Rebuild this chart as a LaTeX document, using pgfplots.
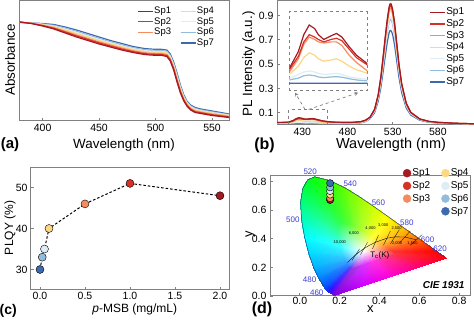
\documentclass[border=0pt]{standalone}
\usepackage{fontspec}
\setmainfont{Liberation Sans}
\usepackage{pgfplots}
\usepackage{pgfplotstable}
\pgfplotsset{compat=1.18}
\definecolor{c1}{RGB}{165,25,35}
\definecolor{c2}{RGB}{215,48,39}
\definecolor{c3}{RGB}{244,140,95}
\definecolor{c4}{RGB}{253,215,130}
\definecolor{c5}{RGB}{222,236,244}
\definecolor{c6}{RGB}{145,188,220}
\definecolor{c7}{RGB}{60,105,175}
\definecolor{frame}{RGB}{128,128,128}
\definecolor{wl}{RGB}{60,60,215}
\definecolor{locus}{RGB}{40,70,120}

\pgfplotstableread{
x a1 a2 a3 a4 a5 a6 a7
380 99 98.9 98.8 98.8 98.7 98.6 98.5
390 97.5 97.6 97.7 97.8 97.8 97.9 98
400 95 95.4 95.8 96.3 96.6 97 97.5
410 92 92.7 93.4 94.3 94.9 95.6 96.5
420 88 88.9 89.8 91 91.9 92.8 94
430 84 85.1 86.1 87.5 88.6 89.6 91
440 80.5 81.6 82.6 84 85.1 86.1 87.5
450 77 78.1 79.1 80.5 81.6 82.6 84
460 74 75 76 77.3 78.2 79.2 80.5
470 71 72 73 74.3 75.2 76.2 77.5
480 68.5 69.4 70.3 71.5 72.4 73.3 74.5
490 66.5 67.4 68.3 69.5 70.4 71.3 72.5
495 66 66.9 67.8 69 69.9 70.8 72
500 65.7 66.6 67.5 68.7 69.6 70.5 71.7
505 65.7 66.6 67.5 68.7 69.6 70.5 71.7
510 64.5 65.5 66.5 67.8 68.7 69.7 71
513 60 61.1 62.1 63.5 64.6 65.6 67
516 51 52.2 53.4 55 56.2 57.4 59
519 39 40.4 41.7 43.5 44.9 46.2 48
522 28 29.2 30.4 32 33.2 34.4 36
525 20 20.9 21.8 23 23.9 24.8 26
528 14.5 15.3 16 17 17.8 18.5 19.5
531 11 11.8 12.5 13.5 14.3 15 16
535 8.5 9.3 10 11 11.8 12.5 13.5
540 7.5 8.2 8.9 9.8 10.4 11.1 12
550 5.5 6.2 6.9 7.8 8.4 9.1 10
565 3.5 4 4.6 5.3 5.8 6.3 7
}\absdata

\pgfplotstableread{
x s1 s2 s3 s4 s5 s6 s7
402 0.021 0.020 0.019 0.017 0.015 0.014 0.0118
410 0.022 0.021 0.020 0.018 0.015 0.014 0.0118
415 0.024 0.023 0.021 0.019 0.016 0.0145 0.0118
420 0.038 0.034 0.032 0.026 0.019 0.016 0.0118
423 0.052 0.046 0.044 0.033 0.021 0.018 0.0118
426 0.060 0.052 0.050 0.037 0.022 0.0186 0.0118
429 0.057 0.050 0.048 0.035 0.021 0.018 0.0118
431 0.052 0.048 0.046 0.032 0.020 0.017 0.0118
434 0.048 0.046 0.045 0.030 0.019 0.0164 0.0118
438 0.051 0.048 0.046 0.031 0.0195 0.017 0.0118
441 0.053 0.049 0.046 0.032 0.020 0.0172 0.0118
444 0.050 0.047 0.043 0.030 0.019 0.0168 0.0118
448 0.042 0.040 0.035 0.026 0.017 0.0155 0.0118
452 0.035 0.033 0.029 0.023 0.016 0.0145 0.0118
458 0.028 0.027 0.022 0.020 0.015 0.0137 0.0118
465 0.024 0.023 0.020 0.018 0.014 0.013 0.0118
475 0.022 0.021 0.019 0.017 0.014 0.013 0.0118
485 0.022 0.021 0.019 0.017 0.014 0.013 0.0118
495 0.028 0.027 0.026 0.024 0.021 0.020 0.018
500 0.040 0.039 0.038 0.036 0.032 0.031 0.028
505 0.065 0.064 0.063 0.061 0.058 0.057 0.051
510 0.13 0.128 0.125 0.123 0.116 0.113 0.101
514 0.25 0.246 0.241 0.236 0.223 0.218 0.195
517 0.40 0.394 0.386 0.378 0.356 0.348 0.312
520 0.60 0.591 0.579 0.567 0.534 0.522 0.468
522 0.74 0.729 0.714 0.699 0.659 0.644 0.577
524 0.87 0.857 0.840 0.822 0.774 0.757 0.679
526 0.97 0.955 0.936 0.917 0.863 0.844 0.757
527 0.995 0.980 0.960 0.940 0.886 0.866 0.776
528 0.998 0.983 0.963 0.943 0.888 0.868 0.778
529 0.98 0.965 0.946 0.926 0.872 0.853 0.764
530 0.95 0.936 0.917 0.898 0.846 0.827 0.741
532 0.85 0.837 0.820 0.803 0.757 0.740 0.663
534 0.71 0.699 0.685 0.671 0.632 0.618 0.554
537 0.50 0.493 0.483 0.473 0.445 0.435 0.390
540 0.34 0.335 0.328 0.321 0.303 0.296 0.265
545 0.18 0.177 0.174 0.170 0.160 0.157 0.140
550 0.105 0.103 0.101 0.099 0.093 0.091 0.082
560 0.05 0.049 0.048 0.047 0.045 0.044 0.039
570 0.03 0.030 0.029 0.028 0.027 0.026 0.023
580 0.022 0.022 0.021 0.021 0.020 0.019 0.017
600 0.014 0.014 0.014 0.013 0.012 0.012 0.011
620 0.010 0.010 0.010 0.009 0.009 0.009 0.008
}\pldata

\pgfplotsset{
  panel/.style={scale only axis, anchor=south west,
    axis line style={frame, line width=1pt},
    every tick/.style={frame, line width=0.8pt},
    tick align=inside, major tick length=3pt,
    xtick pos=lower, ytick pos=left,
    tick label style={font=\fontsize{10.5}{12}\selectfont, black},
    /pgf/number format/assume math mode=true},
  lw/.style={line width=1.2pt},
  lineleg/.style={legend image code/.code={\draw[##1] (0pt,0pt) -- (15pt,0pt);}},
}

\begin{document}
\begin{tikzpicture}
\useasboundingbox (0,0) rectangle (474pt,326pt);

% ---------- (a) ----------
\begin{axis}[panel, lineleg, at={(20pt,205pt)}, width=209pt, height=120pt,
  xmin=380, xmax=565, ymin=0, ymax=120,
  xtick={400,450,500,550}, ytick=\empty,
  legend columns=2, legend cell align=left,
  legend style={draw=none, fill=none, at={(0.56,0.96)}, anchor=north west,
    inner sep=0pt, font=\fontsize{9.5}{10}\selectfont,
    nodes={inner sep=0.8pt, text height=7pt, text depth=2pt},
    /tikz/every even column/.append style={column sep=8pt}}]
\addplot[c7, lw, forget plot] table[x=x,y=a7]{\absdata};
\addplot[c6, lw, forget plot] table[x=x,y=a6]{\absdata};
\addplot[c5, lw, forget plot] table[x=x,y=a5]{\absdata};
\addplot[c4, lw, forget plot] table[x=x,y=a4]{\absdata};
\addplot[c3, lw, forget plot] table[x=x,y=a3]{\absdata};
\addplot[c2, lw, forget plot] table[x=x,y=a2]{\absdata};
\addplot[c1, lw, forget plot] table[x=x,y=a1]{\absdata};
\addlegendimage{draw=c1, lw}\addlegendentry{Sp1}
\addlegendimage{draw=c4, lw}\addlegendentry{Sp4}
\addlegendimage{draw=c2, lw}\addlegendentry{Sp2}
\addlegendimage{draw=c5, lw}\addlegendentry{Sp5}
\addlegendimage{draw=c3, lw}\addlegendentry{Sp3}
\addlegendimage{draw=c6, lw}\addlegendentry{Sp6}
\addlegendimage{empty legend}\addlegendentry{}
\addlegendimage{draw=c7, lw}\addlegendentry{Sp7}
\end{axis}

% ---------- (b) ----------
\begin{axis}[panel, lineleg, at={(277pt,201pt)}, width=197pt, height=124pt,
  xmin=402, xmax=620, ymin=0, ymax=1.02,
  xtick={430,480,530,580}, ytick={0.1,0.3,0.5,0.7,0.9},
  legend cell align=left,
  legend style={draw=none, fill=none, at={(0.772,0.956)}, anchor=north west,
    inner sep=0pt, font=\fontsize{10}{11}\selectfont,
    nodes={inner sep=0.8pt, text height=7.5pt, text depth=2.5pt}}]
\addplot[c7, lw, forget plot] table[x=x,y=s7]{\pldata};
\addplot[c6, lw, forget plot] table[x=x,y=s6]{\pldata};
\addplot[c5, lw, forget plot] table[x=x,y=s5]{\pldata};
\addplot[c4, lw, forget plot] table[x=x,y=s4]{\pldata};
\addplot[c3, lw, forget plot] table[x=x,y=s3]{\pldata};
\addplot[c2, lw, forget plot] table[x=x,y=s2]{\pldata};
\addplot[c1, lw, forget plot] table[x=x,y=s1]{\pldata};
\addlegendimage{draw=c1, lw}\addlegendentry{Sp1}
\addlegendimage{draw=c2, lw}\addlegendentry{Sp2}
\addlegendimage{draw=c3, lw}\addlegendentry{Sp3}
\addlegendimage{draw=c4, lw}\addlegendentry{Sp4}
\addlegendimage{draw=c5, lw}\addlegendentry{Sp5}
\addlegendimage{draw=c6, lw}\addlegendentry{Sp6}
\addlegendimage{draw=c7, lw}\addlegendentry{Sp7}
\draw[frame, dashed, line width=0.7pt] (axis cs:415,0.004) rectangle (axis cs:458,0.128);
\draw[frame, dashed, line width=0.7pt, -stealth] (axis cs:433,0.128) -- (axis cs:422,0.266);
\draw[frame, dashed, line width=0.7pt, -stealth] (axis cs:437,0.128) -- (axis cs:492,0.266);
\end{axis}

% inset of (b)
\begin{axis}[scale only axis, anchor=south west, at={(289.3pt,235.3pt)}, width=78pt, height=79pt,
  xmin=415, xmax=458, ymin=0.0056, ymax=0.071,
  axis line style={frame, dashed, line width=0.7pt}, xtick=\empty, ytick=\empty]
\addplot[c7, lw] table[x=x,y=s7]{\pldata};
\addplot[c6, lw] table[x=x,y=s6]{\pldata};
\addplot[c5, lw] table[x=x,y=s5]{\pldata};
\addplot[c4, lw] table[x=x,y=s4]{\pldata};
\addplot[c3, lw] table[x=x,y=s3]{\pldata};
\addplot[c2, lw] table[x=x,y=s2]{\pldata};
\addplot[c1, lw] table[x=x,y=s1]{\pldata};
\end{axis}

% ---------- (c) ----------
\begin{axis}[panel, at={(31pt,36pt)}, width=198pt, height=123pt,
  xmin=-0.1, xmax=2.1, ymin=25, ymax=55,
  xtick={0,0.5,1,1.5,2}, ytick={30,40,50},
  xticklabel style={yshift=1pt, /pgf/number format/.cd, fixed, fixed zerofill, precision=1}]
\addplot[black, dashed, line width=1pt, dash pattern=on 2.5pt off 2pt] coordinates {(0,30)(0.025,33)(0.05,35)(0.1,40)(0.5,46)(1,51)(2,48)};
\addplot[only marks, mark=*, mark size=4pt, mark options={draw=none, fill=c7}] coordinates {(0,30)};
\addplot[only marks, mark=*, mark size=4pt, mark options={draw=none, fill=c6}] coordinates {(0.025,33)};
\addplot[only marks, mark=*, mark size=4pt, mark options={draw=none, fill=c5}] coordinates {(0.05,35)};
\addplot[only marks, mark=*, mark size=4pt, mark options={draw=none, fill=c4}] coordinates {(0.1,40)};
\addplot[only marks, mark=*, mark size=4pt, mark options={draw=none, fill=c3}] coordinates {(0.5,46)};
\addplot[only marks, mark=*, mark size=4pt, mark options={draw=none, fill=c2}] coordinates {(1,51)};
\addplot[only marks, mark=*, mark size=4pt, mark options={draw=none, fill=c1}] coordinates {(2,48)};
\end{axis}

% ---------- (d) ----------
\begin{axis}[panel, at={(270pt,30pt)}, width=201pt, height=120pt,
  xmin=-0.15, xmax=0.86, ymin=0, ymax=0.84, clip=false,
  xtick={0,0.2,0.4,0.6,0.8}, ytick={0,0.2,0.4,0.6,0.8},
  xticklabel style={yshift=2pt, /pgf/number format/.cd, fixed, fixed zerofill, precision=1},
  yticklabel style={/pgf/number format/.cd, fixed, fixed zerofill, precision=1},
  legend columns=2, legend cell align=left,
  legend image code/.code={\fill[#1] (0pt,0pt) circle (4pt);},
  legend style={draw=none, fill=none, at={(0.66,1.078)}, anchor=north west,
    inner sep=0pt, font=\fontsize{10}{11}\selectfont,
    nodes={inner sep=1.1pt, text height=8pt, text depth=2.5pt},
    /tikz/every even column/.append style={column sep=10pt}}]
\addplot[patch, patch type=triangle, shader=interp, mesh/color input=explicit, forget plot]
table[meta=c] {
x y c
0.32 0.31 rgb=1,1,1
0.2616 0.1880 rgb=0.6,0.2,0.88
0.2546 0.1931 rgb=0.48,0.2,1
0.2616 0.1880 rgb=0.6,0.2,0.88
0.1741 0.0050 rgb=0.5,0,0.85
0.1566 0.0177 rgb=0.35,0,1
0.2616 0.1880 rgb=0.6,0.2,0.88
0.1566 0.0177 rgb=0.35,0,1
0.2546 0.1931 rgb=0.48,0.2,1
0.32 0.31 rgb=1,1,1
0.2546 0.1931 rgb=0.48,0.2,1
0.2496 0.1979 rgb=0.32,0.24,1
0.2546 0.1931 rgb=0.48,0.2,1
0.1566 0.0177 rgb=0.35,0,1
0.1440 0.0297 rgb=0.15,0.05,1
0.2546 0.1931 rgb=0.48,0.2,1
0.1440 0.0297 rgb=0.15,0.05,1
0.2496 0.1979 rgb=0.32,0.24,1
0.32 0.31 rgb=1,1,1
0.2496 0.1979 rgb=0.32,0.24,1
0.2416 0.2091 rgb=0.2,0.44,1
0.2496 0.1979 rgb=0.32,0.24,1
0.1440 0.0297 rgb=0.15,0.05,1
0.1241 0.0578 rgb=0,0.3,1
0.2496 0.1979 rgb=0.32,0.24,1
0.1241 0.0578 rgb=0,0.3,1
0.2416 0.2091 rgb=0.2,0.44,1
0.32 0.31 rgb=1,1,1
0.2416 0.2091 rgb=0.2,0.44,1
0.2285 0.2391 rgb=0.2,0.64,1
0.2416 0.2091 rgb=0.2,0.44,1
0.1241 0.0578 rgb=0,0.3,1
0.0913 0.1327 rgb=0,0.55,1
0.2416 0.2091 rgb=0.2,0.44,1
0.0913 0.1327 rgb=0,0.55,1
0.2285 0.2391 rgb=0.2,0.64,1
0.32 0.31 rgb=1,1,1
0.2285 0.2391 rgb=0.2,0.64,1
0.2195 0.2663 rgb=0.2,0.76,1
0.2285 0.2391 rgb=0.2,0.64,1
0.0913 0.1327 rgb=0,0.55,1
0.0687 0.2007 rgb=0,0.7,1
0.2285 0.2391 rgb=0.2,0.64,1
0.0687 0.2007 rgb=0,0.7,1
0.2195 0.2663 rgb=0.2,0.76,1
0.32 0.31 rgb=1,1,1
0.2195 0.2663 rgb=0.2,0.76,1
0.2102 0.3040 rgb=0.2,0.88,1
0.2195 0.2663 rgb=0.2,0.76,1
0.0687 0.2007 rgb=0,0.7,1
0.0454 0.2950 rgb=0,0.85,1
0.2195 0.2663 rgb=0.2,0.76,1
0.0454 0.2950 rgb=0,0.85,1
0.2102 0.3040 rgb=0.2,0.88,1
0.32 0.31 rgb=1,1,1
0.2102 0.3040 rgb=0.2,0.88,1
0.2014 0.3511 rgb=0.2,1,1
0.2102 0.3040 rgb=0.2,0.88,1
0.0454 0.2950 rgb=0,0.85,1
0.0235 0.4127 rgb=0,1,1
0.2102 0.3040 rgb=0.2,0.88,1
0.0235 0.4127 rgb=0,1,1
0.2014 0.3511 rgb=0.2,1,1
0.32 0.31 rgb=1,1,1
0.2014 0.3511 rgb=0.2,1,1
0.1953 0.4014 rgb=0.2,1,0.8
0.2014 0.3511 rgb=0.2,1,1
0.0235 0.4127 rgb=0,1,1
0.0082 0.5384 rgb=0,1,0.75
0.2014 0.3511 rgb=0.2,1,1
0.0082 0.5384 rgb=0,1,0.75
0.1953 0.4014 rgb=0.2,1,0.8
0.32 0.31 rgb=1,1,1
0.1953 0.4014 rgb=0.2,1,0.8
0.1936 0.4479 rgb=0.2,1,0.6
0.1953 0.4014 rgb=0.2,1,0.8
0.0082 0.5384 rgb=0,1,0.75
0.0039 0.6548 rgb=0,1,0.5
0.1953 0.4014 rgb=0.2,1,0.8
0.0039 0.6548 rgb=0,1,0.5
0.1936 0.4479 rgb=0.2,1,0.6
0.32 0.31 rgb=1,1,1
0.1936 0.4479 rgb=0.2,1,0.6
0.1976 0.4861 rgb=0.2,1,0.44
0.1936 0.4479 rgb=0.2,1,0.6
0.0039 0.6548 rgb=0,1,0.5
0.0139 0.7502 rgb=0,1,0.3
0.1936 0.4479 rgb=0.2,1,0.6
0.0139 0.7502 rgb=0,1,0.3
0.1976 0.4861 rgb=0.2,1,0.44
0.32 0.31 rgb=1,1,1
0.1976 0.4861 rgb=0.2,1,0.44
0.2076 0.5108 rgb=0.2,1,0.32
0.1976 0.4861 rgb=0.2,1,0.44
0.0139 0.7502 rgb=0,1,0.3
0.0389 0.8120 rgb=0,1,0.15
0.1976 0.4861 rgb=0.2,1,0.44
0.0389 0.8120 rgb=0,1,0.15
0.2076 0.5108 rgb=0.2,1,0.32
0.32 0.31 rgb=1,1,1
0.2076 0.5108 rgb=0.2,1,0.32
0.2217 0.5195 rgb=0.24,1,0.24
0.2076 0.5108 rgb=0.2,1,0.32
0.0389 0.8120 rgb=0,1,0.15
0.0743 0.8338 rgb=0.05,1,0.05
0.2076 0.5108 rgb=0.2,1,0.32
0.0743 0.8338 rgb=0.05,1,0.05
0.2217 0.5195 rgb=0.24,1,0.24
0.32 0.31 rgb=1,1,1
0.2217 0.5195 rgb=0.24,1,0.24
0.2539 0.5084 rgb=0.36,1,0.2
0.2217 0.5195 rgb=0.24,1,0.24
0.0743 0.8338 rgb=0.05,1,0.05
0.1547 0.8059 rgb=0.2,1,0
0.2217 0.5195 rgb=0.24,1,0.24
0.1547 0.8059 rgb=0.2,1,0
0.2539 0.5084 rgb=0.36,1,0.2
0.32 0.31 rgb=1,1,1
0.2539 0.5084 rgb=0.36,1,0.2
0.2838 0.4877 rgb=0.52,1,0.2
0.2539 0.5084 rgb=0.36,1,0.2
0.1547 0.8059 rgb=0.2,1,0
0.2296 0.7543 rgb=0.4,1,0
0.2539 0.5084 rgb=0.36,1,0.2
0.2296 0.7543 rgb=0.4,1,0
0.2838 0.4877 rgb=0.52,1,0.2
0.32 0.31 rgb=1,1,1
0.2838 0.4877 rgb=0.52,1,0.2
0.3126 0.4629 rgb=0.68,1,0.2
0.2838 0.4877 rgb=0.52,1,0.2
0.2296 0.7543 rgb=0.4,1,0
0.3016 0.6923 rgb=0.6,1,0
0.2838 0.4877 rgb=0.52,1,0.2
0.3016 0.6923 rgb=0.6,1,0
0.3126 0.4629 rgb=0.68,1,0.2
0.32 0.31 rgb=1,1,1
0.3126 0.4629 rgb=0.68,1,0.2
0.3412 0.4358 rgb=0.84,1,0.2
0.3126 0.4629 rgb=0.68,1,0.2
0.3016 0.6923 rgb=0.6,1,0
0.3731 0.6245 rgb=0.8,1,0
0.3126 0.4629 rgb=0.68,1,0.2
0.3731 0.6245 rgb=0.8,1,0
0.3412 0.4358 rgb=0.84,1,0.2
0.32 0.31 rgb=1,1,1
0.3412 0.4358 rgb=0.84,1,0.2
0.3696 0.4079 rgb=1,1,0.2
0.3412 0.4358 rgb=0.84,1,0.2
0.3731 0.6245 rgb=0.8,1,0
0.4441 0.5547 rgb=1,1,0
0.3412 0.4358 rgb=0.84,1,0.2
0.4441 0.5547 rgb=1,1,0
0.3696 0.4079 rgb=1,1,0.2
0.32 0.31 rgb=1,1,1
0.3696 0.4079 rgb=1,1,0.2
0.3970 0.3806 rgb=1,0.84,0.2
0.3696 0.4079 rgb=1,1,0.2
0.4441 0.5547 rgb=1,1,0
0.5125 0.4866 rgb=1,0.8,0
0.3696 0.4079 rgb=1,1,0.2
0.5125 0.4866 rgb=1,0.8,0
0.3970 0.3806 rgb=1,0.84,0.2
0.32 0.31 rgb=1,1,1
0.3970 0.3806 rgb=1,0.84,0.2
0.4221 0.3557 rgb=1,0.64,0.2
0.3970 0.3806 rgb=1,0.84,0.2
0.5125 0.4866 rgb=1,0.8,0
0.5752 0.4242 rgb=1,0.55,0
0.3970 0.3806 rgb=1,0.84,0.2
0.5752 0.4242 rgb=1,0.55,0
0.4221 0.3557 rgb=1,0.64,0.2
0.32 0.31 rgb=1,1,1
0.4221 0.3557 rgb=1,0.64,0.2
0.4428 0.3350 rgb=1,0.44,0.2
0.4221 0.3557 rgb=1,0.64,0.2
0.5752 0.4242 rgb=1,0.55,0
0.6270 0.3725 rgb=1,0.3,0
0.4221 0.3557 rgb=1,0.64,0.2
0.6270 0.3725 rgb=1,0.3,0
0.4428 0.3350 rgb=1,0.44,0.2
0.32 0.31 rgb=1,1,1
0.4428 0.3350 rgb=1,0.44,0.2
0.4583 0.3196 rgb=1,0.3,0.2
0.4428 0.3350 rgb=1,0.44,0.2
0.6270 0.3725 rgb=1,0.3,0
0.6658 0.3340 rgb=1,0.12,0
0.4428 0.3350 rgb=1,0.44,0.2
0.6658 0.3340 rgb=1,0.12,0
0.4583 0.3196 rgb=1,0.3,0.2
0.32 0.31 rgb=1,1,1
0.4583 0.3196 rgb=1,0.3,0.2
0.4686 0.3093 rgb=1,0.2,0.2
0.4583 0.3196 rgb=1,0.3,0.2
0.6658 0.3340 rgb=1,0.12,0
0.6915 0.3083 rgb=1,0,0
0.4583 0.3196 rgb=1,0.3,0.2
0.6915 0.3083 rgb=1,0,0
0.4686 0.3093 rgb=1,0.2,0.2
0.32 0.31 rgb=1,1,1
0.4686 0.3093 rgb=1,0.2,0.2
0.4859 0.2921 rgb=1,0.2,0.24
0.4686 0.3093 rgb=1,0.2,0.2
0.6915 0.3083 rgb=1,0,0
0.7347 0.2653 rgb=1,0,0.05
0.4686 0.3093 rgb=1,0.2,0.2
0.7347 0.2653 rgb=1,0,0.05
0.4859 0.2921 rgb=1,0.2,0.24
0.32 0.31 rgb=1,1,1
0.4859 0.2921 rgb=1,0.2,0.24
0.4298 0.2661 rgb=1,0.2,0.56
0.4859 0.2921 rgb=1,0.2,0.24
0.7347 0.2653 rgb=1,0,0.05
0.5946 0.2002 rgb=1,0,0.45
0.4859 0.2921 rgb=1,0.2,0.24
0.5946 0.2002 rgb=1,0,0.45
0.4298 0.2661 rgb=1,0.2,0.56
0.32 0.31 rgb=1,1,1
0.4298 0.2661 rgb=1,0.2,0.56
0.3738 0.2401 rgb=1,0.2,0.88
0.4298 0.2661 rgb=1,0.2,0.56
0.5946 0.2002 rgb=1,0,0.45
0.4544 0.1352 rgb=1,0,0.85
0.4298 0.2661 rgb=1,0.2,0.56
0.4544 0.1352 rgb=1,0,0.85
0.3738 0.2401 rgb=1,0.2,0.88
0.32 0.31 rgb=1,1,1
0.3738 0.2401 rgb=1,0.2,0.88
0.3177 0.2140 rgb=0.84,0.2,1
0.3738 0.2401 rgb=1,0.2,0.88
0.4544 0.1352 rgb=1,0,0.85
0.3143 0.0701 rgb=0.8,0,1
0.3738 0.2401 rgb=1,0.2,0.88
0.3143 0.0701 rgb=0.8,0,1
0.3177 0.2140 rgb=0.84,0.2,1
0.32 0.31 rgb=1,1,1
0.3177 0.2140 rgb=0.84,0.2,1
0.2616 0.1880 rgb=0.6,0.2,0.88
0.3177 0.2140 rgb=0.84,0.2,1
0.3143 0.0701 rgb=0.8,0,1
0.1741 0.0050 rgb=0.5,0,0.85
0.3177 0.2140 rgb=0.84,0.2,1
0.1741 0.0050 rgb=0.5,0,0.85
0.2616 0.1880 rgb=0.6,0.2,0.88
};
\addplot[locus, line width=0.5pt, forget plot] coordinates {(0.1741,0.0050)(0.1566,0.0177)(0.1440,0.0297)(0.1241,0.0578)(0.0913,0.1327)(0.0687,0.2007)(0.0454,0.2950)(0.0235,0.4127)(0.0082,0.5384)(0.0039,0.6548)(0.0139,0.7502)(0.0389,0.8120)(0.0743,0.8338)(0.1547,0.8059)(0.2296,0.7543)(0.3016,0.6923)(0.3731,0.6245)(0.4441,0.5547)(0.5125,0.4866)(0.5752,0.4242)(0.6270,0.3725)(0.6658,0.3340)(0.6915,0.3083)(0.7347,0.2653)};
% Planckian locus and isotherms
\addplot[black, line width=0.35pt, forget plot] coordinates {(0.5857,0.3931)(0.5267,0.4133)(0.4770,0.4137)(0.4369,0.4041)(0.3805,0.3768)(0.3451,0.3516)(0.3221,0.3318)(0.2952,0.3048)(0.2807,0.2884)(0.2565,0.2577)(0.2399,0.2342)};
\addplot[black, line width=0.3pt, forget plot] coordinates {(0.262,0.249)(0.300,0.330)};
\addplot[black, line width=0.3pt, forget plot] coordinates {(0.305,0.290)(0.340,0.375)};
\addplot[black, line width=0.3pt, forget plot] coordinates {(0.365,0.330)(0.395,0.425)};
\addplot[black, line width=0.3pt, forget plot] coordinates {(0.420,0.355)(0.455,0.455)};
\addplot[black, line width=0.3pt, forget plot] coordinates {(0.455,0.365)(0.500,0.465)};
\addplot[black, line width=0.3pt, forget plot] coordinates {(0.500,0.370)(0.555,0.455)};
\addplot[black, line width=0.3pt, forget plot] coordinates {(0.555,0.355)(0.615,0.430)};
\begin{scope}[font=\fontsize{4}{4.5}\selectfont]
\node at (axis cs:0.201,0.378) {10,000};
\node at (axis cs:0.271,0.436) {6,000};
\node at (axis cs:0.355,0.471) {4,000};
\node at (axis cs:0.419,0.494) {3,000};
\node at (axis cs:0.486,0.471) {2,500};
\node at (axis cs:0.489,0.366) {2,000};
\node at (axis cs:0.566,0.366) {1,500};
\end{scope}
\node[font=\fontsize{8}{9}\selectfont] at (axis cs:0.402,0.285) {T$_\mathrm{c}$(K)};
\begin{scope}[font=\fontsize{8}{9}\selectfont, text=wl]
\node at (axis cs:0.052,0.872) {520};
\node at (axis cs:0.253,0.783) {540};
\node at (axis cs:0.395,0.653) {560};
\node at (axis cs:0.538,0.513) {580};
\node at (axis cs:0.642,0.396) {600};
\node at (axis cs:0.705,0.333) {620};
\node at (axis cs:-0.035,0.531) {500};
\node at (axis cs:0.049,0.112) {480};
\node at (axis cs:0.085,0.024) {460};
\end{scope}
\node[font=\fontsize{10}{11}\selectfont\bfseries\itshape, anchor=east] at (axis cs:0.845,0.077) {CIE 1931};
\addplot[only marks, mark=*, mark size=3.6pt, mark options={draw=none, fill=c1}, forget plot] coordinates {(0.152,0.672)};
\addplot[only marks, mark=*, mark size=3.6pt, mark options={draw=none, fill=c2}, forget plot] coordinates {(0.152,0.675)};
\addplot[only marks, mark=*, mark size=3.6pt, mark options={draw=none, fill=c3}, forget plot] coordinates {(0.152,0.685)};
\addplot[only marks, mark=*, mark size=3.6pt, mark options={draw=none, fill=c4}, forget plot] coordinates {(0.152,0.71)};
\addplot[only marks, mark=*, mark size=3.6pt, mark options={draw=none, fill=c5}, forget plot] coordinates {(0.152,0.735)};
\addplot[only marks, mark=*, mark size=3.6pt, mark options={draw=none, fill=c6}, forget plot] coordinates {(0.152,0.76)};
\addplot[only marks, mark=*, mark size=3.6pt, mark options={draw=none, fill=c7}, forget plot] coordinates {(0.152,0.79)};
\addlegendimage{c1}\addlegendentry{Sp1}
\addlegendimage{c4}\addlegendentry{Sp4}
\addlegendimage{c2}\addlegendentry{Sp2}
\addlegendimage{c5}\addlegendentry{Sp5}
\addlegendimage{c3}\addlegendentry{Sp3}
\addlegendimage{c6}\addlegendentry{Sp6}
\addlegendimage{empty legend}\addlegendentry{}
\addlegendimage{c7}\addlegendentry{Sp7}
\end{axis}

% ---------- labels ----------
\node[font=\fontsize{13.4}{14}\selectfont] at (124pt,181pt) {Wavelength (nm)};
\node[font=\fontsize{13.4}{14}\selectfont, rotate=90] at (10pt,266pt) {Absorbance};
\node[font=\fontsize{15}{16}\selectfont\bfseries] at (10pt,181pt) {(a)};
\node[font=\fontsize{14.5}{15}\selectfont] at (391pt,181pt) {Wavelength (nm)};
\node[font=\fontsize{13.4}{14}\selectfont, rotate=90] at (248.7pt,262pt) {PL Intensity (a.u.)};
\node[font=\fontsize{16}{17}\selectfont\bfseries] at (264.5pt,180.3pt) {(b)};
\node[font=\fontsize{12}{13}\selectfont] at (134.7pt,16.5pt) {\textit{p}-MSB (mg/mL)};
\node[font=\fontsize{12}{13}\selectfont, rotate=90] at (10pt,98pt) {PLQY (\%)};
\node[font=\fontsize{14}{15}\selectfont\bfseries] at (8.3pt,15.5pt) {(c)};
\node[font=\fontsize{13}{14}\selectfont, rotate=90] at (250.3pt,91.3pt) {y};
\node[font=\fontsize{13}{14}\selectfont] at (370.3pt,17pt) {x};
\node[font=\fontsize{16}{17}\selectfont\bfseries] at (262pt,16.5pt) {(d)};
\end{tikzpicture}
\end{document}
